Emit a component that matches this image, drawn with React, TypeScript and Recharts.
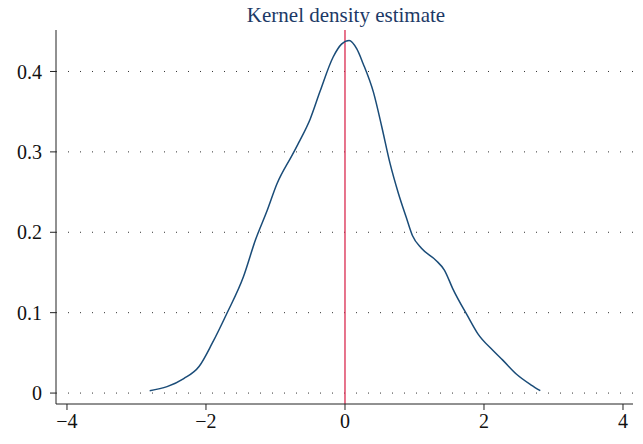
import { LineChart, Line, XAxis, YAxis, CartesianGrid, ReferenceLine } from "recharts";

const xs = [
  -2.81, -2.56, -2.32, -2.1, -1.91, -1.7, -1.46, -1.29, -1.12, -0.98, -0.76, -0.65, -0.5, -0.36,
  -0.17, -0.05, 0.06, 0.17, 0.26, 0.41, 0.53, 0.65, 0.77, 0.88, 0.97, 1.1, 1.31, 1.43, 1.55, 1.77,
  1.91, 2.13, 2.27, 2.46, 2.68, 2.81,
];
const density = [
  0.003, 0.008, 0.018, 0.033, 0.062, 0.099, 0.145, 0.19, 0.227, 0.26, 0.296, 0.314, 0.341, 0.375,
  0.418, 0.434, 0.4385, 0.428, 0.41, 0.374, 0.331, 0.285, 0.248, 0.219, 0.196, 0.18, 0.165, 0.153,
  0.13, 0.095, 0.074, 0.053, 0.041, 0.024, 0.01, 0.003,
];
const xTicks = [-4, -2, 0, 2, 4];
const yTicks = [0, 0.1, 0.2, 0.3, 0.4];

const data = xs.map((x, i) => ({ x, y: density[i] }));

const font = "'Liberation Serif', 'DejaVu Serif', serif";

export default function App() {
  return (
    <div style={{ position: "fixed", left: 0, top: 0, width: 643, height: 444, background: "#fff" }}>
      <div
        style={{
          position: "absolute",
          left: 0,
          top: 3,
          width: 692,
          textAlign: "center",
          fontFamily: font,
          fontSize: 21,
          color: "#1c3966",
          lineHeight: "24px",
        }}
      >
        Kernel density estimate
      </div>
      <LineChart width={643} height={444} data={data} margin={{ top: 30, right: 10, left: 0, bottom: 0 }}>
        <CartesianGrid
          vertical={false}
          horizontalValues={yTicks}
          stroke="#333"
          strokeDasharray="1 11"
        />
        <XAxis
          dataKey="x"
          type="number"
          domain={[-4.158, 4.144]}
          ticks={xTicks}
          tickFormatter={(v: number) => (v < 0 ? `\u2212${-v}` : `${v}`)}
          height={40}
          tickSize={6}
          tickMargin={4}
          stroke="#222"
          tick={{ fill: "#111", fontFamily: font, fontSize: 20 }}
          allowDataOverflow
        />
        <YAxis
          type="number"
          domain={[-0.0136, 0.4516]}
          ticks={yTicks}
          width={56}
          tickSize={6}
          tickMargin={8}
          stroke="#222"
          tick={{ fill: "#111", fontFamily: font, fontSize: 20 }}
          allowDataOverflow
        />
        <ReferenceLine x={0} stroke="#d9294f" strokeWidth={1.3} />
        <Line
          dataKey="y"
          type="monotone"
          stroke="#1a4c78"
          strokeWidth={1.5}
          dot={false}
          isAnimationActive={false}
        />
      </LineChart>
    </div>
  );
}
